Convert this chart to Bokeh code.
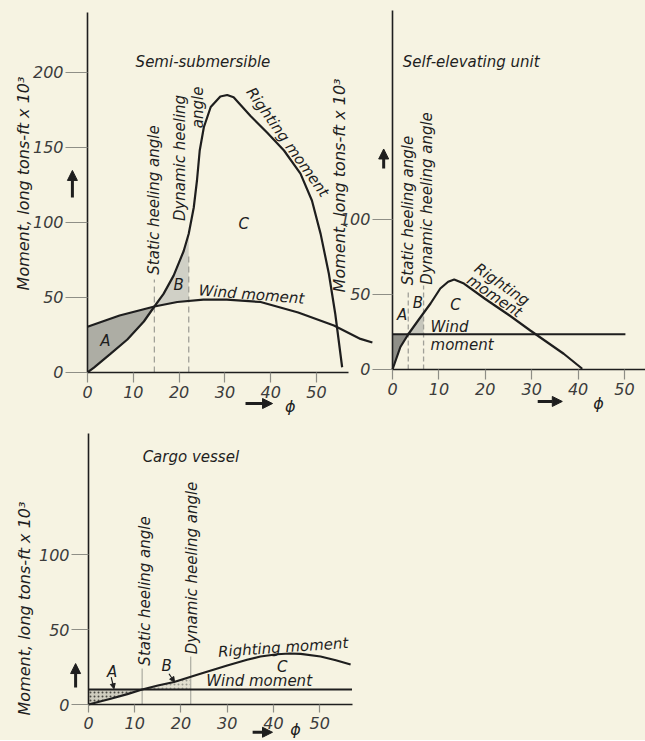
import numpy as np
from bokeh.plotting import figure
from bokeh.layouts import row, column
from bokeh.models import FixedTicker, Arrow, NormalHead
from bokeh.core.properties import value
from bokeh.embed import file_html
from bokeh.resources import INLINE

# ---------------- data ----------------
x_ticks = [0, 10, 20, 30, 40, 50]
semi_y_ticks = [0, 50, 100, 150, 200]
small_y_ticks = [0, 50, 100]

# Semi-submersible
semi_phi_righting = [0, 1.4, 5, 8.7, 12.3, 14.6, 16.6, 18.8, 21, 22.1, 23.2, 23.9, 24.5, 25.4,
                     26.9, 29, 30.5, 31.9, 35.6, 39.2, 42.9, 46.5, 49, 50.9, 52.7, 54.1, 55.6]
semi_m_righting = [0, 3.3, 12.4, 22, 34, 44, 52.4, 64.6, 81, 92.5, 110, 128, 148, 163.5,
                   177, 184, 185, 183.5, 171, 160, 148, 132.6, 114.7, 92.4, 65.8, 39, 3.5]
semi_phi_wind = [0, 7, 14.6, 19.6, 25.3, 30.4, 37.8, 46, 53.8, 59.6, 62.2]
semi_m_wind = [30.5, 38, 44, 47, 48.6, 48.6, 47, 40, 31.3, 22.4, 20]
semi_static = 14.6
semi_dynamic = 22.1

# Self-elevating unit
self_phi_righting = [0, 1.7, 3.4, 5.6, 8.2, 10.3, 12, 13.3, 15.4, 20, 25, 29.7, 36.9, 40.9]
self_m_righting = [0, 15, 23.5, 33, 44, 54, 58.5, 60, 57.3, 47, 36.5, 26, 10.5, 0.5]
self_phi_wind = [0, 50.2]
self_m_wind = [23.5, 23.5]
self_static = 3.4
self_dynamic = 6.7

# Cargo vessel
cargo_phi_righting = [0, 4.8, 8.4, 11.6, 15, 18.5, 24.2, 30, 34.3, 37.2, 40.8, 43.5, 45.9, 50.2, 53.5, 56.7]
cargo_m_righting = [0, 3.8, 6.9, 10, 12.7, 15, 20.5, 26, 29.8, 32, 33.5, 34, 33.8, 32, 29.5, 26.7]
cargo_phi_wind = [0, 57]
cargo_m_wind = [10, 10]
cargo_static = 11.6
cargo_dynamic = 22.1

# ---------------- style ----------------
BG = "#f6f3e2"
INK = "#1e1e1e"
GREY = "#8e8e86"
FONT = "DejaVu Sans"
Y_LABEL = "Moment, long tons-ft x 10³"


def make_fig(width, height, xr, yr, y_ticks, x_bounds, y_bounds, ytick_out, xtick_out,
             fill=BG, **kw):
    p = figure(width=width, height=height, x_range=xr, y_range=yr,
               min_border=0, min_border_left=0, min_border_right=0,
               min_border_top=0, min_border_bottom=0,
               output_backend="svg", toolbar_location=None,
               background_fill_color=fill, border_fill_color=fill,
               outline_line_color=None, **kw)
    p.grid.visible = False
    p.xaxis.ticker = FixedTicker(ticks=x_ticks)
    p.yaxis.ticker = FixedTicker(ticks=y_ticks)
    p.xaxis.bounds = x_bounds
    p.yaxis.bounds = y_bounds
    p.xaxis.fixed_location = 0
    p.yaxis.fixed_location = 0
    for ax in (p.xaxis, p.yaxis):
        ax.axis_line_color = INK
        ax.axis_line_width = 1.6
        ax.major_tick_line_color = GREY
        ax.major_tick_line_width = 1.2
        ax.minor_tick_line_color = None
        ax.major_tick_in = 0
        ax.major_label_text_font = FONT
        ax.major_label_text_font_style = "italic"
        ax.major_label_text_font_size = "16px"
        ax.major_label_text_color = "#3c3c3c"
    p.yaxis.major_tick_out = ytick_out
    p.yaxis.major_label_standoff = 2
    p.xaxis.major_tick_out = xtick_out
    p.xaxis.major_label_standoff = 4
    return p


def txt(p, x, y, s, angle=0.0, size="15px", align="center"):
    p.text(x=[x], y=[y], text=[s], angle=angle, text_font=value(FONT),
           text_font_style="italic", text_font_size=size, text_color=INK,
           text_align=align, text_baseline="middle")


def arrow(p, x0, y0, x1, y1, size=10, width=3.0):
    p.add_layout(Arrow(end=NormalHead(size=size, fill_color=INK, line_color=INK),
                       x_start=x0, y_start=y0, x_end=x1, y_end=y1,
                       line_width=width, line_color=INK))


def region(phi_top, m_top, phi_bot, m_bot, lo, hi):
    pts = [v for v in list(phi_top) + list(phi_bot) if lo <= v <= hi] + [lo, hi]
    grid = np.unique(np.array(pts, dtype=float))
    top = np.interp(grid, phi_top, m_top)
    bot = np.interp(grid, phi_bot, m_bot)
    return np.concatenate([grid, grid[::-1]]), np.concatenate([top, bot[::-1]])


# ---------------- Semi-submersible ----------------
p1 = make_fig(376, 418, (-19.0, 63.1), (-30.67, 248), semi_y_ticks, (0, 57), (0, 240), 22, 10)

xa, ya = region(semi_phi_wind, semi_m_wind, semi_phi_righting, semi_m_righting, 0, semi_static)
p1.patch(xa, ya, fill_color="#adada4", line_color=None)
xb, yb = region(semi_phi_righting, semi_m_righting, semi_phi_wind, semi_m_wind, semi_static, semi_dynamic)
p1.patch(xb, yb, fill_color="#d0d0c6", line_color=None)
p1.segment(x0=[semi_static, semi_dynamic], y0=[0, 0], x1=[semi_static, semi_dynamic], y1=[62, 80],
           line_color="#a0a098", line_width=1.3, line_dash="6 4")
p1.line(semi_phi_wind, semi_m_wind, line_color=INK, line_width=2.2)
p1.line(semi_phi_righting, semi_m_righting, line_color=INK, line_width=2.2)

txt(p1, 10.5, 206.7, "Semi-submersible", align="left")
txt(p1, 14.6, 115, "Static heeling angle", angle=np.pi / 2)
txt(p1, 20.3, 143, "Dynamic heeling", angle=np.pi / 2)
txt(p1, 24.1, 176.7, "angle", angle=np.pi / 2)
txt(p1, 43.7, 153.5, "Righting moment", angle=-0.95)
txt(p1, 34.1, 99, "C")
txt(p1, 19.9, 58, "B")
txt(p1, 3.9, 21, "A")
txt(p1, 35.8, 52, "Wind moment", angle=-0.08)
txt(p1, -13.9, 126, Y_LABEL, angle=np.pi / 2, size="16px")
arrow(p1, -3.3, 116.7, -3.3, 134.7)
arrow(p1, 34.5, -20.7, 40.4, -20.7)
txt(p1, 44.3, -22.5, "ϕ", size="16px")

# ---------------- Self-elevating unit ----------------
p2 = make_fig(315, 418, (-13.36, 54.53), (-32.67, 246), small_y_ticks, (0, 54.5), (0, 239.3), 20, 10,
              fill=None, margin=(0, 0, 0, -46))

xa, ya = region(self_phi_wind, self_m_wind, self_phi_righting, self_m_righting, 0, self_static)
p2.patch(xa, ya, fill_color="#8f8f88", line_color=None)
xb, yb = region(self_phi_righting, self_m_righting, self_phi_wind, self_m_wind, self_static, self_dynamic)
p2.patch(xb, yb, fill_color="#c6c6bc", line_color=None)
p2.segment(x0=[self_static, self_dynamic], y0=[0, 0], x1=[self_static, self_dynamic], y1=[52, 56],
           line_color="#a0a098", line_width=1.3, line_dash="5 3")
p2.line(self_phi_wind, self_m_wind, line_color=INK, line_width=2.2)
p2.line(self_phi_righting, self_m_righting, line_color=INK, line_width=2.2)

txt(p2, 2.2, 204.7, "Self-elevating unit", align="left")
txt(p2, 3.4, 106, "Static heeling angle", angle=np.pi / 2)
txt(p2, 7.5, 114, "Dynamic heeling angle", angle=np.pi / 2)
txt(p2, 23.6, 56.7, "Righting", angle=-0.6)
txt(p2, 22.0, 48.9, "moment", angle=-0.6)
txt(p2, 13.6, 43, "C")
txt(p2, 5.5, 44, "B")
txt(p2, 2.1, 36, "A")
txt(p2, 8.2, 28, "Wind", align="left")
txt(p2, 8.2, 16, "moment", align="left")
txt(p2, -11.4, 122.7, Y_LABEL, angle=np.pi / 2, size="16px")
arrow(p2, -1.9, 134, -1.9, 147)
arrow(p2, 31.3, -21.3, 36.6, -21.3)
txt(p2, 44.4, -23, "ϕ", size="16px")

# ---------------- Cargo vessel ----------------
p3 = make_fig(376, 322, (-19.05, 62.3), (-24, 190.67), small_y_ticks, (0, 57), (0, 180.7), 17, 8)

xa, ya = region(cargo_phi_wind, cargo_m_wind, cargo_phi_righting, cargo_m_righting, 0, cargo_static)
p3.patch(xa, ya, fill_color="#cfcdbf", line_color=None, hatch_pattern="dot",
         hatch_color="#4a4a44", hatch_scale=4, hatch_weight=1)
xb, yb = region(cargo_phi_righting, cargo_m_righting, cargo_phi_wind, cargo_m_wind, cargo_static, cargo_dynamic)
p3.patch(xb, yb, fill_color="#e2dfd0", line_color=None, hatch_pattern="dot",
         hatch_color="#9a9a90", hatch_scale=4, hatch_weight=1)
p3.segment(x0=[cargo_static, cargo_dynamic], y0=[0, 0], x1=[cargo_static, cargo_dynamic], y1=[24, 32],
           line_color="#b0b0a6", line_width=1.3)
p3.line(cargo_phi_wind, cargo_m_wind, line_color=INK, line_width=2.2)
p3.line(cargo_phi_righting, cargo_m_righting, line_color=INK, line_width=2.2)

txt(p3, 11.7, 164.9, "Cargo vessel", align="left")
txt(p3, 12.2, 75.7, "Static heeling angle", angle=np.pi / 2)
txt(p3, 22.4, 91, "Dynamic heeling angle", angle=np.pi / 2)
txt(p3, 42.1, 38, "Righting moment", angle=0.07)
txt(p3, 41.9, 25, "C")
txt(p3, 36.9, 15.5, "Wind moment")
txt(p3, 16.9, 26, "B")
txt(p3, 5.1, 22, "A")
arrow(p3, 17.4, 20.5, 18.6, 15, size=5, width=1.2)
arrow(p3, 4.9, 18.2, 5.5, 10.5, size=5, width=1.2)
txt(p3, -13.8, 64, Y_LABEL, angle=np.pi / 2, size="16px")
arrow(p3, -2.8, 11.3, -2.8, 27.3)
arrow(p3, 35.5, -18.5, 39.8, -18.5)
txt(p3, 44.8, -16.5, "ϕ", size="16px")

layout = column(row(p1, p2), p3, styles={"background-color": BG})

open("out.html", "w").write(file_html(layout, INLINE))
